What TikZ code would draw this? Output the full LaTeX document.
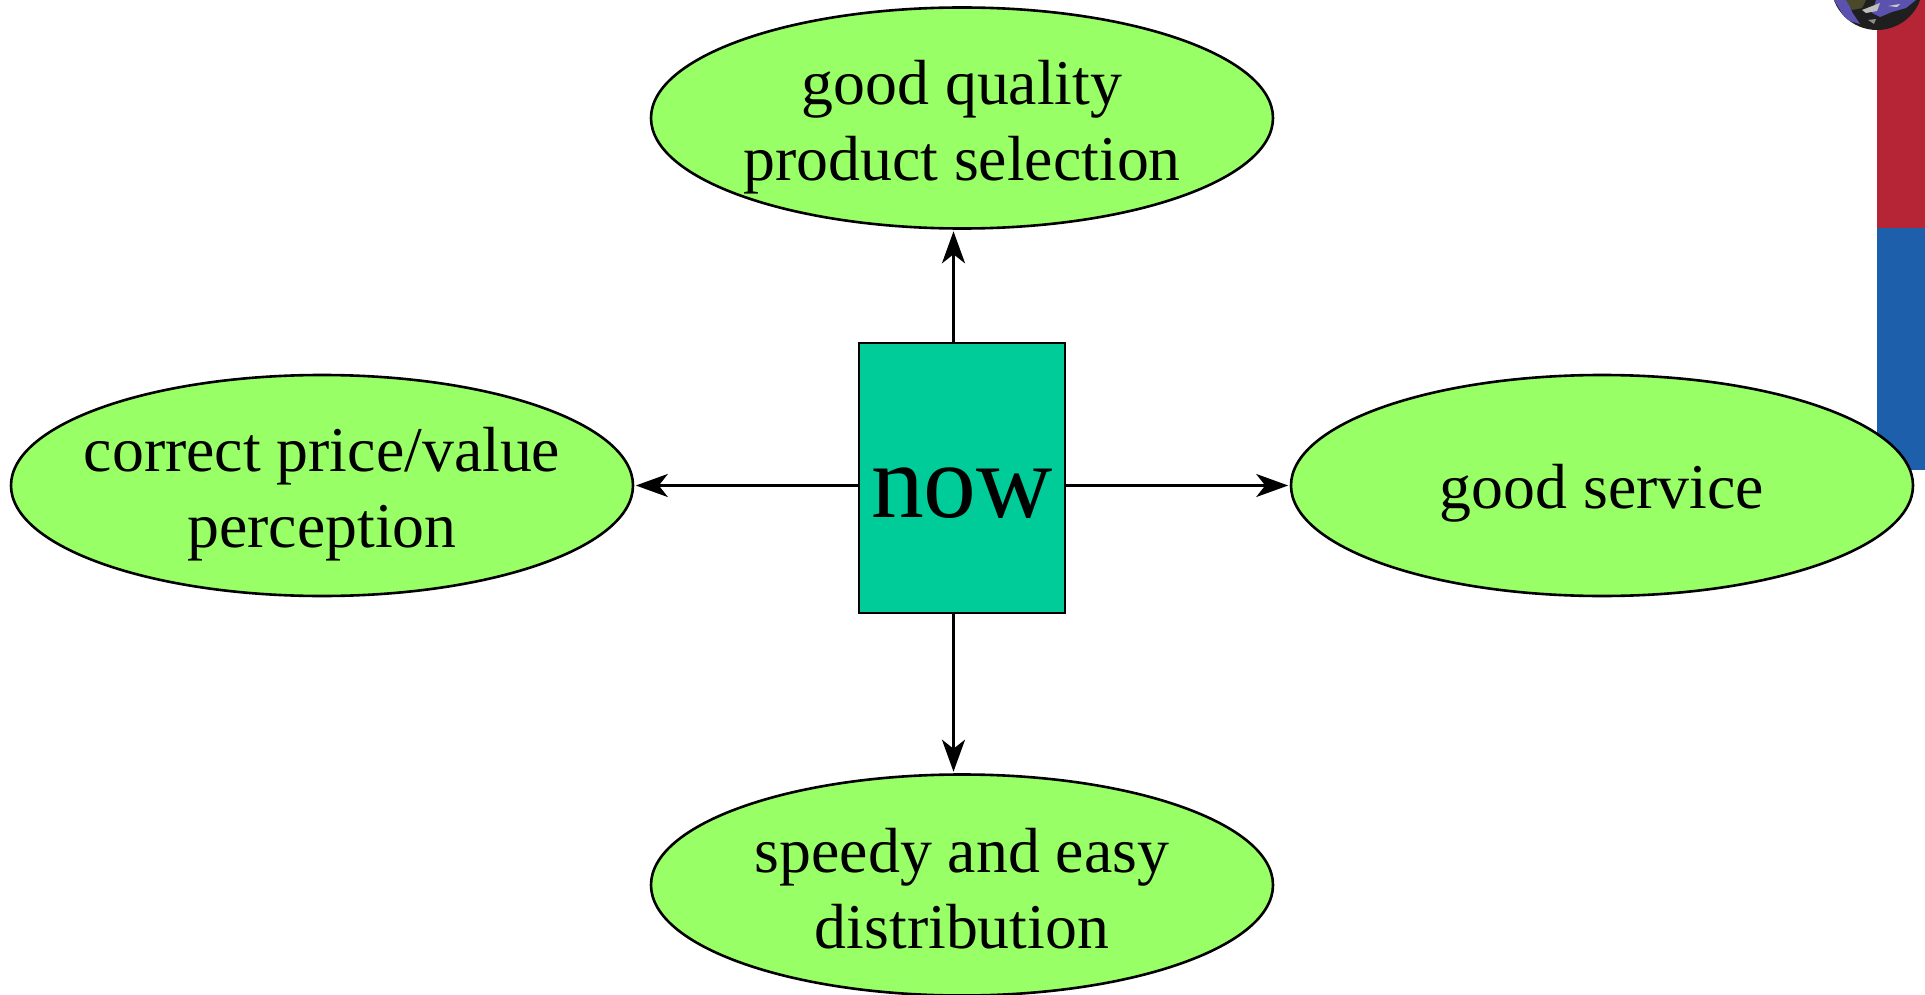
\documentclass[tikz,border=0pt]{standalone}
\usepackage{fontspec}
\setmainfont{Liberation Serif}
\usetikzlibrary{shapes.geometric,arrows.meta}
\definecolor{oval}{HTML}{99FF66}
\definecolor{teal2}{HTML}{00CC99}
\definecolor{barred}{HTML}{B52535}
\definecolor{barblue}{HTML}{1D5FAA}
\definecolor{sea}{HTML}{5A52AE}
\definecolor{land}{HTML}{4A4A2A}
\tikzset{
 goal/.style={ellipse,draw=black,line width=2.6pt,fill=oval,minimum width=622pt,minimum height=221pt,inner sep=0pt},
 goaltext/.style={align=center,inner sep=0pt,font=\fontsize{63.8pt}{76pt}\selectfont},
 link/.style={line width=2.7pt,-{Stealth[length=32pt,width=23pt,inset=9pt]},shorten >=1.5pt},
}
\begin{document}
\begin{tikzpicture}[x=1pt,y=-1pt]
\useasboundingbox (0,0) rectangle (1925,995);
\fill[barred] (1877,0) rectangle (1925,228);
\fill[barblue] (1877,228) rectangle (1925,470);
\begin{scope}
\clip (0,0) rectangle (1925,995);
\fill[black!88] (1877,-16) circle (46);
\clip (1877,-16) circle (46);
\fill[sea] (1834,0) -- (1848,0) -- (1852,12) -- (1860,24) -- (1846,20) -- cycle;
\fill[sea] (1876,0) -- (1916,0) -- (1906,8) -- (1892,12) -- (1880,17) -- (1872,13) -- cycle;
\fill[land] (1846,0) -- (1866,0) -- (1862,8) -- (1852,10) -- cycle;
\fill[black!25] (1862,10) -- (1880,3) -- (1877,11) -- (1866,13) -- cycle;
\fill[black!20] (1888,6) -- (1900,4) -- (1897,7) -- cycle;
\fill[black!45] (1868,20) -- (1876,19) -- (1874,24) -- cycle;
\end{scope}
\node[goal] (top) at (962,118) {};
\node[goal] (left) at (322,485.5) {};
\node[goal] (right) at (1602,485.5) {};
\node[goal] (bottom) at (962,885) {};
\node[goaltext,yshift=-9pt] (toptext) at (top.center) {good quality\\product selection};
\node[goaltext,yshift=-9pt] (lefttext) at (left.center) {correct price/value\\perception};
\node[goaltext,yshift=-8pt] (righttext) at (right.center) {good service};
\node[goaltext,yshift=-4pt] (bottomtext) at (bottom.center) {speedy and easy\\distribution};
\node[draw=black,line width=2.6pt,fill=teal2,minimum width=206pt,minimum height=270pt,inner sep=0pt] (now) at (962,478) {};
\node[inner sep=0pt,yshift=-15pt,font=\fontsize{105.6pt}{110pt}\selectfont] (nowtext) at (now.center) {now};
\draw[link] ([xshift=-8.5pt]now.north) -- ([xshift=-8.5pt]top.south);
\draw[link] ([xshift=-8.5pt]now.south) -- ([xshift=-8.5pt]bottom.north);
\draw[link] (now.east |- right.west) -- (right.west);
\draw[link] (now.west |- left.east) -- (left.east);
\end{tikzpicture}
\end{document}
